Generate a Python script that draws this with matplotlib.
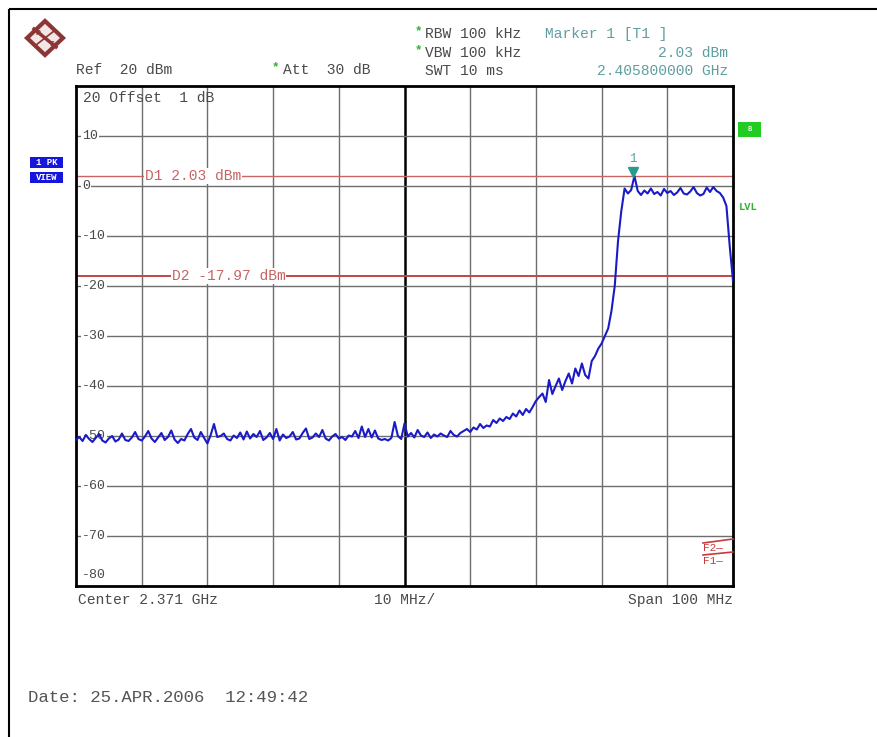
"""
R&S spectrum analyser screenshot - occupied band at 2.4 GHz.
Trace read by eye from the hardcopy, 0.5 MHz steps across the 100 MHz span.
"""
import numpy as np
import matplotlib
matplotlib.use('Agg')
import matplotlib.pyplot as plt
from matplotlib.patches import Polygon, Rectangle

plt.rcParams['font.family'] = ['Liberation Mono', 'DejaVu Sans Mono']

W, H = 877, 737
C = {'grid': '#6e6e6e', 'tx': '#4a4a4a', 'trace': '#1a1ac8', 'dl': '#c86464',
     'mk': '#2a9a8c', 'mktx': '#5f9ea0', 'green': '#33b033', 'blue': '#1515dd', 'red': '#c83a3a'}

# --- data (dBm, 0.5 MHz steps from 2.321 GHz) ---
level = [
    # 0-10 MHz
    -50.8, -50.2, -51.0, -49.8, -50.6, -51.2, -50.4, -49.6, -50.9, -51.3,
    -50.5, -50.0, -51.1, -50.7, -49.5, -50.8, -51.0, -50.3, -49.2, -50.6,
    # 10-20
    -50.9, -50.1, -49.0, -50.5, -51.2, -50.3, -49.4, -50.8, -50.2, -48.9,
    -50.7, -51.4, -50.6, -50.9, -49.6, -48.6, -50.3, -50.8, -49.2, -50.4,
    # 20-30
    -51.5, -49.8, -47.6, -50.2, -50.0, -49.5, -50.6, -50.9, -49.9, -50.4,
    -49.3, -50.7, -49.1, -50.5, -49.6, -50.2, -49.0, -50.8, -50.3, -49.4,
    # 30-40
    -50.6, -48.6, -50.9, -49.7, -50.4, -50.1, -49.2, -50.7, -50.5, -49.4,
    -48.5, -50.6, -50.3, -49.5, -50.2, -48.8, -50.5, -50.9, -50.1, -49.6,
    # 40-50
    -50.5, -50.2, -50.8, -49.9, -50.1, -49.0, -50.4, -48.1, -50.2, -48.6,
    -50.3, -48.9, -50.5, -50.8, -50.6, -50.9, -50.4, -47.2, -50.0, -50.6,
    # 50-60
    -47.5, -50.1, -49.4, -50.3, -48.8, -49.9, -50.2, -49.3, -50.4, -49.7,
    -50.1, -49.5, -49.9, -50.2, -49.0, -49.8, -50.1, -49.4, -49.0, -48.6,
    # 60-70
    -49.2, -48.3, -48.7, -47.6, -48.4, -47.9, -48.1, -46.8, -47.4, -46.5,
    -47.0, -46.2, -46.6, -45.5, -46.1, -44.9, -45.8, -44.6, -45.3, -44.2,
    # 70-80
    -43.0, -42.2, -41.5, -43.2, -38.8, -41.6, -40.0, -38.5, -40.8, -39.0,
    -37.5, -39.5, -36.5, -38.0, -35.5, -37.8, -38.5, -35.0, -34.0, -32.5,
    # 80-90
    -31.5, -30.0, -28.5, -25.0, -20.0, -11.0, -5.0, -0.5, -1.5, -0.8,
    2.0, -1.0, -1.8, -0.9, -1.5, -0.5, -1.6, -1.2, -1.9, -0.6,
    # 90-100
    -1.4, -1.0, -1.8, -1.3, -0.4, -1.5, -1.7, -1.1, -0.2, -1.4,
    -1.9, -1.6, -0.3, -1.2, -0.2, -1.0, -1.4, -2.3, -4.0, -12.0,
    -19.0,
]
freq = np.arange(len(level)) * 0.5          # MHz offset in the span

y_labels = [10, 0, -10, -20, -30, -40, -50, -60, -70]
display_lines = {'D1': 2.03, 'D2': -17.97}
marker_f, marker_lvl = 84.8, 2.03

fig = plt.figure(figsize=(W / 100, H / 100), dpi=100)
fig.patch.set_facecolor('white')

# === main trace window ===
ax = fig.add_axes([76 / W, (H - 586) / H, 657 / W, 500 / H])
ax.set_xlim(0, 100); ax.set_ylim(-80, 20)
ax.set_xticks([]); ax.set_yticks([])
for s in ax.spines.values():
    s.set_linewidth(2); s.set_color('black')
for x in range(10, 100, 10):
    if x == 50:
        ax.axvline(x, color='black', lw=1.8, zorder=1)
    else:
        ax.axvline(x, color=C['grid'], lw=1, zorder=1)
for y in range(-70, 20, 10):
    ax.axhline(y, color=C['grid'], lw=1, zorder=1)

for y in y_labels:
    ax.text(0.9, y, f'{y}', ha='left', va='center', fontsize=9.5, color=C['tx'], zorder=2,
            bbox=dict(boxstyle='square,pad=0.05', facecolor='white', edgecolor='none'))
ax.text(0.9, -77.8, '-80', ha='left', va='center', fontsize=9.5, color=C['tx'])
ax.text(1.0, 17.6, '20 Offset  1 dB', ha='left', va='center', fontsize=10.5, color=C['tx'])

# display lines
ax.axhline(display_lines['D1'], color=C['dl'], lw=1, zorder=2)
ax.axhline(display_lines['D2'], color='#c04848', lw=1.4, zorder=2)
ax.text(10.5, display_lines['D1'], f"D1 {display_lines['D1']:.2f} dBm", ha='left', va='center',
        fontsize=10.5, color=C['dl'], zorder=3,
        bbox=dict(boxstyle='square,pad=0.05', facecolor='white', edgecolor='none'))
ax.text(14.6, display_lines['D2'], f"D2 {display_lines['D2']:.2f} dBm", ha='left', va='center',
        fontsize=10.5, color=C['dl'], zorder=3,
        bbox=dict(boxstyle='square,pad=0.05', facecolor='white', edgecolor='none'))

ax.plot(freq, level, color=C['trace'], lw=1.5, zorder=4)

# marker 1
ax.plot(marker_f, marker_lvl + 0.8, marker='v', color=C['mk'], ms=7, zorder=5)
ax.text(marker_f, marker_lvl + 3.4, '1', ha='center', va='center', fontsize=9, color=C['mktx'], zorder=5)

# === screen annotations in pixel coords ===
ov = fig.add_axes([0, 0, 1, 1])
ov.set_xlim(0, W); ov.set_ylim(H, 0); ov.axis('off'); ov.set_zorder(5)
ov.patch.set_alpha(0)

ov.add_patch(Rectangle((9, 9), 880, 740, fill=False, lw=1.5, ec='black'))

# logo
ov.add_patch(Polygon([(45, 21), (63, 38), (45, 55), (27, 38)], closed=True,
                     fc='#f3e6e6', ec='#8b3535', lw=3))
ov.plot([34, 56], [29, 47], color='#8b3535', lw=2.5)
ov.plot([36, 54], [45, 31], color='#8b3535', lw=1.2)
ov.text(38, 33, 'R', fontsize=6, color='#8b3535', ha='center', va='center', weight='bold')
ov.text(52, 44, 'S', fontsize=6, color='#8b3535', ha='center', va='center', weight='bold')

fs = 10.5
ov.text(76, 70, 'Ref  20 dBm', fontsize=fs, color=C['tx'], va='center')
ov.text(272, 67, '*', fontsize=9, color=C['green'], va='center', weight='bold')
ov.text(283, 70, 'Att  30 dB', fontsize=fs, color=C['tx'], va='center')
ov.text(415, 31, '*', fontsize=9, color=C['green'], va='center', weight='bold')
ov.text(425, 34, 'RBW 100 kHz', fontsize=fs, color=C['tx'], va='center')
ov.text(415, 50, '*', fontsize=9, color=C['green'], va='center', weight='bold')
ov.text(425, 53, 'VBW 100 kHz', fontsize=fs, color=C['tx'], va='center')
ov.text(425, 71, 'SWT 10 ms', fontsize=fs, color=C['tx'], va='center')
ov.text(545, 34, 'Marker 1 [T1 ]', fontsize=fs, color=C['mktx'], va='center')
ov.text(728, 53, f'{marker_lvl:.2f} dBm', fontsize=fs, color=C['mktx'], va='center', ha='right')
ov.text(728, 71, '2.405800000 GHz', fontsize=fs, color=C['mktx'], va='center', ha='right')

# side labels
ov.add_patch(Rectangle((30, 157), 33, 11, fc=C['blue'], ec='none'))
ov.text(46.5, 162.5, '1 PK', fontsize=6.5, color='white', ha='center', va='center', weight='bold')
ov.add_patch(Rectangle((30, 172), 33, 11, fc=C['blue'], ec='none'))
ov.text(46.5, 177.5, 'VIEW', fontsize=6.5, color='white', ha='center', va='center', weight='bold')
ov.add_patch(Rectangle((738, 122), 23, 15, fc='#22cc22', ec='none'))
ov.text(749.5, 129.5, 'B', fontsize=5, color='#dfffdf', ha='center', va='center', weight='bold')
ov.text(739, 207, 'LVL', fontsize=7.5, color=C['green'], ha='left', va='center', weight='bold')

# frequency line flags
ov.plot([703, 733], [543, 539], color=C['red'], lw=1.2)
ov.plot([703, 733], [555, 552], color=C['red'], lw=1.2)
ov.text(703, 548, 'F2\u2014', fontsize=8, color=C['red'], va='center')
ov.text(703, 561, 'F1\u2014', fontsize=8, color=C['red'], va='center')

ov.text(78, 600, 'Center 2.371 GHz', fontsize=fs, color=C['tx'], va='center')
ov.text(405, 600, '10 MHz/', fontsize=fs, color=C['tx'], va='center', ha='center')
ov.text(733, 600, 'Span 100 MHz', fontsize=fs, color=C['tx'], va='center', ha='right')
ov.text(28, 697, 'Date: 25.APR.2006  12:49:42', fontsize=12.5, color='#555555', va='center')

fig.savefig('out.png', dpi=100, facecolor='white')
plt.close()
